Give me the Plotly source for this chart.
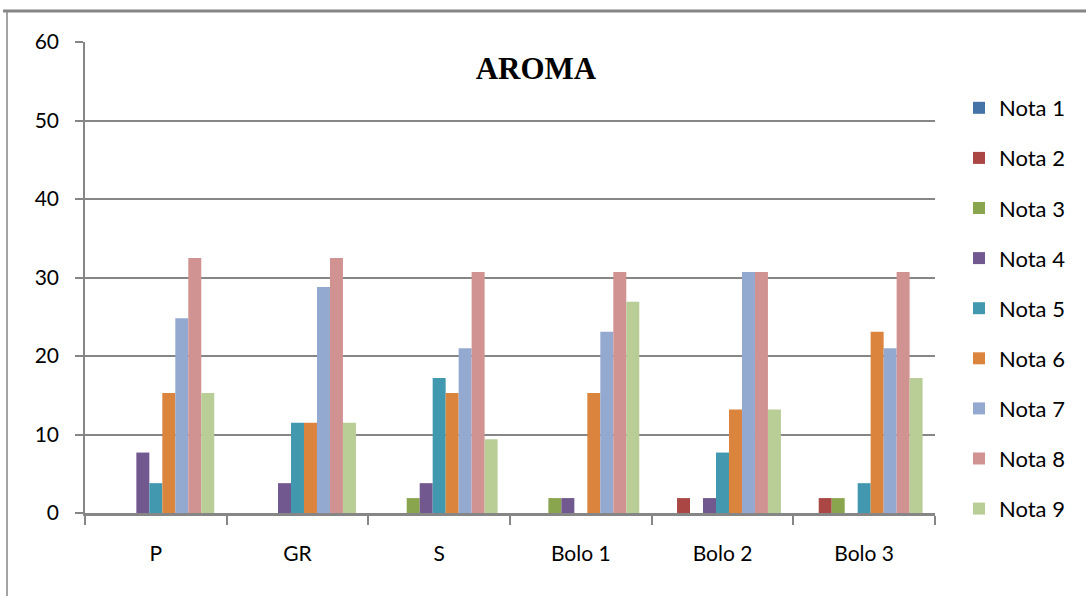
import plotly.graph_objects as go

categories = ["P", "GR", "S", "Bolo 1", "Bolo 2", "Bolo 3"]
series_names = ["Nota 1", "Nota 2", "Nota 3", "Nota 4", "Nota 5", "Nota 6", "Nota 7", "Nota 8", "Nota 9"]
nota1 = [0, 0, 0, 0, 0, 0]
nota2 = [0, 0, 0, 0, 1.9, 1.9]
nota3 = [0, 0, 1.9, 1.9, 0, 1.9]
nota4 = [7.7, 3.8, 3.8, 1.9, 1.9, 0]
nota5 = [3.8, 11.5, 17.2, 0, 7.7, 3.8]
nota6 = [15.3, 11.5, 15.3, 15.3, 13.2, 23.1]
nota7 = [24.8, 28.8, 21.0, 23.1, 30.7, 21.0]
nota8 = [32.5, 32.5, 30.7, 30.7, 30.7, 30.7]
nota9 = [15.3, 11.5, 9.4, 26.9, 13.2, 17.2]
series_values = [nota1, nota2, nota3, nota4, nota5, nota6, nota7, nota8, nota9]
colors = ["#4572A7", "#AA4643", "#89A54E", "#71588F", "#4198AF",
          "#DB843D", "#93A9CF", "#D19392", "#B9CD96"]
y_ticks = [0, 10, 20, 30, 40, 50, 60]

fig = go.Figure()
for name, vals, col in zip(series_names, series_values, colors):
    fig.add_trace(go.Bar(x=categories, y=vals, name=name, marker_color=col,
                         marker_line_width=0, legendgroup=name))

axis_col = "#868686"
fig.update_layout(
    width=1086, height=596,
    margin=dict(l=85, r=151, t=42, b=83),
    paper_bgcolor="white", plot_bgcolor="white",
    barmode="group", bargap=0.175, bargroupgap=0,
    font=dict(family="Lato, Open Sans, sans-serif", size=21, color="#000000"),
    title=dict(text="<b>AROMA</b>", x=536/1086, xanchor="center", y=1-68/596, yanchor="middle",
               font=dict(family="Liberation Serif, Times New Roman, serif", size=31, color="#000000")),
    legend=dict(x=959/1086, xref="container", xanchor="left", y=1-87/596, yref="container",
                yanchor="top", font=dict(size=22, family="Lato, Open Sans, sans-serif"),
                tracegroupgap=18.5, itemwidth=30, bgcolor="rgba(0,0,0,0)", maxheight=600),
    showlegend=True,
)
fig.update_yaxes(range=[0, 60], tickvals=y_ticks, showgrid=True, gridcolor=axis_col, gridwidth=1.5,
                 showline=True, linecolor=axis_col, linewidth=1.5, ticks="outside", ticklen=8,
                 tickcolor=axis_col, tickwidth=1.5, zeroline=False, ticklabelstandoff=12)
fig.update_xaxes(showline=True, linecolor=axis_col, linewidth=2.5, ticks="outside", ticklen=9,
                 tickcolor=axis_col, tickwidth=1.5, tickson="boundaries", showgrid=False,
                 ticklabelstandoff=20)

# outer chart border fragments
fig.add_shape(type="line", xref="paper", yref="paper", x0=(3-85)/850, x1=(1086-85)/850,
              y0=(513-11)/471, y1=(513-11)/471, line=dict(color=axis_col, width=3))
fig.add_shape(type="line", xref="paper", yref="paper", x0=(7-85)/850, x1=(7-85)/850,
              y0=(513-11)/471, y1=(513-600)/471, line=dict(color=axis_col, width=1.5))

fig.write_html("out.html", config={"displayModeBar": False},
               post_script="document.body.style.margin='0';")
